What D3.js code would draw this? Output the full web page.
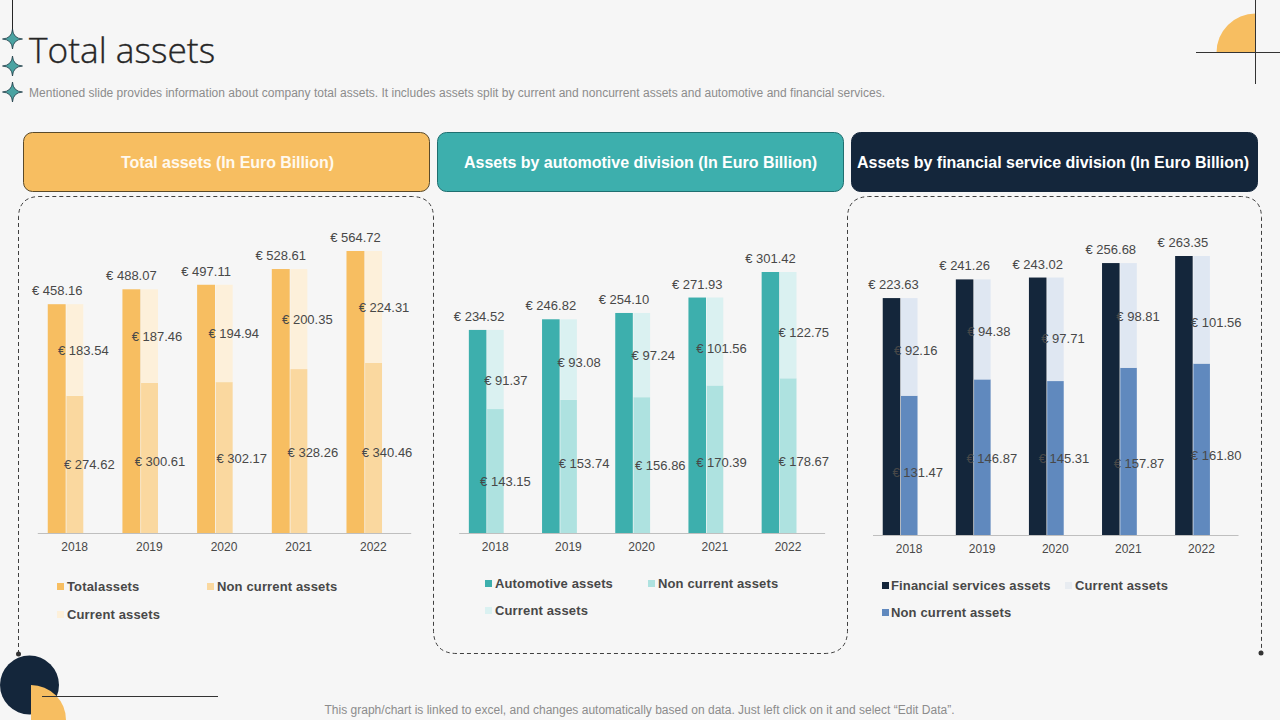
<!DOCTYPE html>
<html>
<head>
<meta charset="utf-8">
<title>Total assets</title>
<script src="https://cdn.jsdelivr.net/npm/d3@7"></script>
<style>
  html, body { margin: 0; padding: 0; background: #f6f6f6; }
  svg { display: block; font-family: "Liberation Sans", Arial, sans-serif; }
</style>
</head>
<body>
<div class="canvas"></div>
<script>
// Data
const years = ['2018', '2019', '2020', '2021', '2022'];

const totalAssets = [458.16, 488.07, 497.11, 528.61, 564.72];
const totalNonCurrent = [274.62, 300.61, 302.17, 328.26, 340.46];
const totalCurrent = [183.54, 187.46, 194.94, 200.35, 224.31];

const autoAssets = [234.52, 246.82, 254.10, 271.93, 301.42];
const autoNonCurrent = [143.15, 153.74, 156.86, 170.39, 178.67];
const autoCurrent = [91.37, 93.08, 97.24, 101.56, 122.75];

const finAssets = [223.63, 241.26, 243.02, 256.68, 263.35];
const finNonCurrent = [131.47, 146.87, 145.31, 157.87, 161.80];
const finCurrent = [92.16, 94.38, 97.71, 98.81, 101.56];

const headers = [
    'Total assets (In Euro Billion)',
    'Assets by automotive division (In Euro Billion)',
    'Assets by financial service division (In Euro Billion)'
];

// Graph set up
const svgWidth = 1280;
const svgHeight = 720;
const orange = '#f7be61';
const teal = '#3dafad';
const navy = '#14263b';
const textColor = '#484848';

const svg = d3.select('.canvas')
    .append('svg')
    .attr('width', svgWidth)
    .attr('height', svgHeight);

svg.append('rect')
    .attr('width', svgWidth)
    .attr('height', svgHeight)
    .attr('fill', '#f6f6f6');

// Decorations, top left
svg.append('line')
    .attr('x1', 12.5).attr('x2', 12.5)
    .attr('y1', 0).attr('y2', 40)
    .attr('stroke', '#262626');

const star = (cx, cy) => {
    const r = 10, k = 0.6;
    return `M${cx},${cy - r}Q${cx + k},${cy - k} ${cx + r},${cy}Q${cx + k},${cy + k} ${cx},${cy + r}` +
        `Q${cx - k},${cy + k} ${cx - r},${cy}Q${cx - k},${cy - k} ${cx},${cy - r}Z`;
};

svg.selectAll('.star')
    .data([39, 66, 92])
    .enter()
    .append('path')
        .attr('class', 'star')
        .attr('d', d => star(12.5, d))
        .attr('fill', '#4aa3a2')
        .attr('stroke', '#1d3a45')
        .attr('stroke-width', 0.8);

// Title
svg.append('text')
    .attr('x', 29)
    .attr('y', 63)
    .attr('font-family', '"Open Sans", sans-serif')
    .attr('font-weight', 300)
    .attr('font-size', 35.3)
    .attr('fill', '#262626')
    .attr('stroke', '#262626')
    .attr('stroke-width', 0.35)
    .text('Total assets');

svg.append('text')
    .attr('x', 29)
    .attr('y', 96.5)
    .attr('font-size', 12)
    .attr('fill', '#8c8c8c')
    .attr('textLength', 856)
    .text('Mentioned slide provides information about company total assets. It includes assets split by current and noncurrent assets and automotive and financial services.');

// Decorations, top right
const quarter = d3.arc().innerRadius(0);

svg.append('path')
    .attr('transform', 'translate(1255.5,52.5)')
    .attr('d', quarter({outerRadius: 39, startAngle: -Math.PI / 2, endAngle: 0}))
    .attr('fill', orange);

svg.append('line')
    .attr('x1', 1196).attr('x2', 1280)
    .attr('y1', 52.5).attr('y2', 52.5)
    .attr('stroke', '#333');

svg.append('line')
    .attr('x1', 1255.5).attr('x2', 1255.5)
    .attr('y1', 0).attr('y2', 84)
    .attr('stroke', '#333');

// Decorations, bottom left
svg.append('circle')
    .attr('cx', 29.5)
    .attr('cy', 685)
    .attr('r', 29.5)
    .attr('fill', navy);

svg.append('path')
    .attr('transform', 'translate(31,720)')
    .attr('d', quarter({outerRadius: 35, startAngle: 0, endAngle: Math.PI / 2}))
    .attr('fill', orange);

svg.append('line')
    .attr('x1', 42).attr('x2', 218)
    .attr('y1', 696.5).attr('y2', 696.5)
    .attr('stroke', '#333');

// Dashed frame running round the three charts
svg.append('path')
    .attr('d', 'M18.5,654V218Q18.5,196.5 40,196.5H411Q433.5,196.5 433.5,218V630Q433.5,653.5 457,653.5' +
        'H824Q847.5,653.5 847.5,630V218Q847.5,196.5 870,196.5H1240Q1261.5,196.5 1261.5,218V653')
    .attr('fill', 'none')
    .attr('stroke', '#404040')
    .attr('stroke-width', 1)
    .attr('stroke-dasharray', '4 3');

svg.selectAll('.frame-end')
    .data([[18.5, 654], [1261, 653]])
    .enter()
    .append('circle')
        .attr('class', 'frame-end')
        .attr('cx', d => d[0])
        .attr('cy', d => d[1])
        .attr('r', 2.5)
        .attr('fill', '#333');

// Footer
svg.append('text')
    .attr('x', 639.5)
    .attr('y', 713.5)
    .attr('text-anchor', 'middle')
    .attr('font-size', 12)
    .attr('fill', '#8c8c8c')
    .attr('textLength', 630)
    .text('This graph/chart is linked to excel, and changes automatically based on data. Just left click on it and select “Edit Data”.');

// One panel: header box, clustered bar + stacked bar, axis, labels, legend
const drawPanel = (p) => {

    svg.append('rect')
        .attr('x', p.boxX + 0.5)
        .attr('y', 132.5)
        .attr('width', 406)
        .attr('height', 59)
        .attr('rx', 9)
        .attr('fill', p.colors[0])
        .attr('stroke', p.boxStroke);

    svg.append('text')
        .attr('x', p.headerX)
        .attr('y', 167.5)
        .attr('text-anchor', 'middle')
        .attr('font-size', 16)
        .attr('font-weight', 'bold')
        .attr('fill', p.headerText)
        .attr('textLength', p.headerWidth)
        .text(p.header);

    const graph = svg.append('g');

    // Scales
    const x = d3.scaleBand()
        .domain(years)
        .range(p.xRange)
        .paddingInner(0.28)
        .paddingOuter(0.14);

    // third slot stays empty, as in the original clustered chart
    const slot = d3.scaleBand()
        .domain(['main', 'stack', 'spare'])
        .range([0, x.bandwidth()]);

    const y = d3.scaleLinear()
        .domain([0, p.main[4]])
        .range([p.baseline, p.top]);

    const mainWidth = slot.bandwidth();
    const stackWidth = slot.bandwidth() - 1;
    const stackX = (i) => x(years[i]) + slot('stack') + 0.7;
    const centre = (i) => stackX(i) + stackWidth / 2;

    // Bars
    graph.selectAll('.main')
        .data(p.main)
        .enter()
        .append('rect')
            .attr('class', 'main')
            .attr('x', (d, i) => x(years[i]))
            .attr('y', d => y(d))
            .attr('width', mainWidth)
            .attr('height', d => p.baseline - y(d))
            .attr('fill', p.colors[0]);

    graph.selectAll('.non-current')
        .data(p.nonCurrent)
        .enter()
        .append('rect')
            .attr('class', 'non-current')
            .attr('x', (d, i) => stackX(i))
            .attr('y', d => y(d))
            .attr('width', stackWidth)
            .attr('height', d => p.baseline - y(d))
            .attr('fill', p.colors[1]);

    graph.selectAll('.current')
        .data(p.current)
        .enter()
        .append('rect')
            .attr('class', 'current')
            .attr('x', (d, i) => stackX(i))
            .attr('y', (d, i) => y(d + p.nonCurrent[i]))
            .attr('width', stackWidth)
            .attr('height', d => p.baseline - y(d))
            .attr('fill', p.colors[2]);

    // Axis
    const xAxis = d3.axisBottom(x).tickSize(0).tickPadding(9);

    const xAxisGroup = graph.append('g')
        .attr('transform', `translate(0,${p.baseline})`)
        .call(xAxis);

    xAxisGroup.select('.domain').attr('stroke', '#bfbfbf');
    xAxisGroup.selectAll('text')
        .attr('font-family', '"Liberation Sans", Arial, sans-serif')
        .attr('font-size', 12)
        .attr('fill', textColor);

    // Value labels
    const money = d3.format('.2f');
    const addLabels = (values, cx, cy) => {
        graph.append('g')
            .selectAll('text')
            .data(values)
            .enter()
            .append('text')
                .attr('x', cx)
                .attr('y', cy)
                .attr('dy', '0.35em')
                .attr('text-anchor', 'middle')
                .attr('font-size', 13)
                .attr('fill', textColor)
                .text(d => '€ ' + money(d));
    };

    addLabels(p.main, (d, i) => x(years[i]) + mainWidth / 2 + p.mainNudge[i], d => y(d) - 13.5);
    addLabels(p.current, (d, i) => centre(i) + p.currentNudge[i],
        (d, i) => y(p.nonCurrent[i] + d / 2) + p.currentNudgeY[i]);
    addLabels(p.nonCurrent, (d, i) => centre(i) + p.nonCurrentNudge[i],
        (d, i) => y(d / 2) + p.nonCurrentNudgeY[i]);

    // Legend
    const legend = graph.selectAll('.legend')
        .data(p.legend)
        .enter()
        .append('g')
            .attr('class', 'legend')
            .attr('transform', d => `translate(${d.x},${d.y})`);

    legend.append('rect')
        .attr('x', 0)
        .attr('y', -3.5)
        .attr('width', 7)
        .attr('height', 7)
        .attr('fill', d => d.color);

    legend.append('text')
        .attr('x', d => d.textX)
        .attr('dy', '0.35em')
        .attr('font-size', 13)
        .attr('font-weight', 'bold')
        .attr('letter-spacing', 0.14)
        .attr('word-spacing', d => d.wordSpacing || 0)
        .attr('fill', textColor)
        .text(d => d.name);
};

// label nudges: the value labels were dragged by hand in the original
drawPanel({
    header: headers[0], headerText: '#fff9ee', boxX: 23, boxStroke: '#5a4a2a',
    headerX: 227.5, headerWidth: 213,
    main: totalAssets, nonCurrent: totalNonCurrent, current: totalCurrent,
    colors: [orange, '#fad89f', '#fdf0da'],
    xRange: [37.3, 410.7], baseline: 533, top: 251,
    mainNudge: [0.5, 0, 0, 0, 0],
    currentNudge: [8.5, 7.5, 9.5, 8.5, 10.5], currentNudgeY: [0, 0, 0, 0, 0],
    nonCurrentNudge: [14.5, 10.5, 17.5, 14, 13.5], nonCurrentNudgeY: [0, 4, 1, 1, 4],
    legend: [
        {name: 'Total assets', x: 57, textX: 10, y: 586.5, color: orange, wordSpacing: -3.5},
        {name: 'Non current assets', x: 207, textX: 10, y: 586.5, color: '#fad89f'},
        {name: 'Current assets', x: 57, textX: 10, y: 614.5, color: '#fdf0da'}
    ]
});

drawPanel({
    header: headers[1], headerText: '#ffffff', boxX: 437, boxStroke: '#1f6f70',
    headerX: 640.5, headerWidth: 353,
    main: autoAssets, nonCurrent: autoNonCurrent, current: autoCurrent,
    colors: [teal, '#aee2e0', '#daf1f1'],
    xRange: [458.6, 824.6], baseline: 533, top: 272,
    mainNudge: [1.5, 0, 0, 0, 0],
    currentNudge: [10.5, 10.5, 11.5, 6.5, 15.5], currentNudgeY: [11, 3, 0, 7, 7],
    nonCurrentNudge: [10, 15.5, 18.5, 6.5, 15.5], nonCurrentNudgeY: [10, -3, 0, 3, 6],
    legend: [
        {name: 'Automotive assets', x: 485, textX: 10, y: 583.5, color: teal},
        {name: 'Non current assets', x: 648, textX: 10, y: 583.5, color: '#aee2e0'},
        {name: 'Current assets', x: 485, textX: 10, y: 610.5, color: '#daf1f1'}
    ]
});

drawPanel({
    header: headers[2], headerText: '#ffffff', boxX: 851, boxStroke: navy,
    headerX: 1053, headerWidth: 392,
    main: finAssets, nonCurrent: finNonCurrent, current: finCurrent,
    colors: [navy, '#6089be', '#dfe7f2'],
    xRange: [872.5, 1238], baseline: 535, top: 256,
    mainNudge: [2, 0, 0, 0, -1],
    currentNudge: [6.5, 6.5, 7.5, 9.5, 14.5], currentNudgeY: [4, 2, 9, 1, 13],
    nonCurrentNudge: [8.5, 9.5, 8.5, 10.5, 14.5], nonCurrentNudgeY: [7, 1, 0, 12, 6],
    legend: [
        {name: 'Financial services assets', x: 882, textX: 9, y: 585.5, color: navy},
        {name: 'Current assets', x: 1065, textX: 10, y: 585.5, color: '#e8ecf1'},
        {name: 'Non current assets', x: 882, textX: 9, y: 612.5, color: '#6089be'}
    ]
});
</script>
</body>
</html>
